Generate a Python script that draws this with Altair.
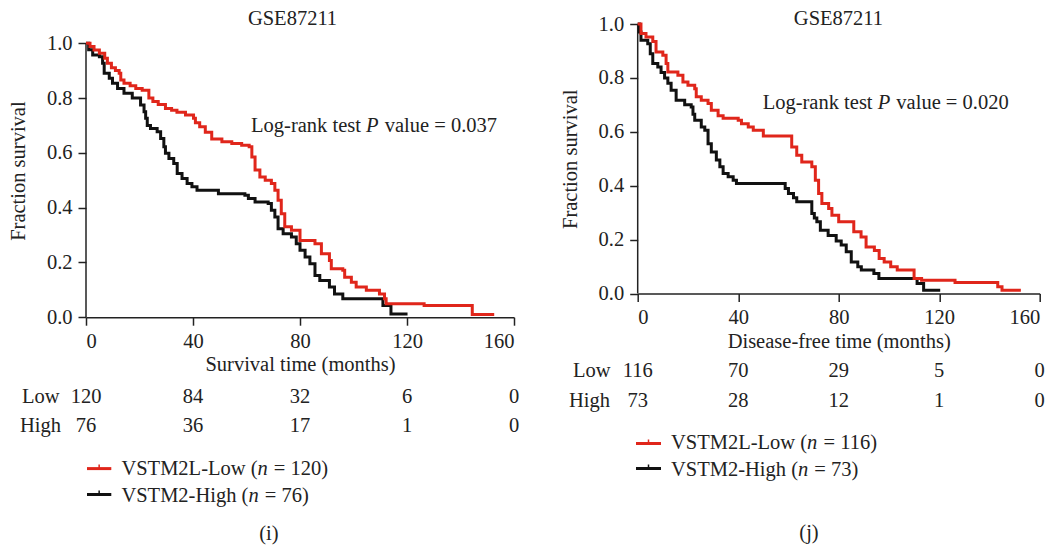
import altair as alt
import pandas as pd

FONT = "Liberation Serif"
FS = 20.5
RED = "#e0261b"
BLACK = "#111111"
INK = "#222222"
NB = "\u00a0"
SP = 0.25 * FS  # width of a space

# ---------------- data ----------------
x_ticks = [0, 40, 80, 120, 160]
y_ticks = [0.0, 0.2, 0.4, 0.6, 0.8, 1.0]
risk_times = [0, 40, 80, 120, 160]

# (i) overall survival
os_low_t = [0, 1.5, 3, 5, 7, 8, 9.5, 11, 12.4, 13, 14.2, 16.5, 18.6, 21, 23.5, 25, 27, 29.7,
            32, 34, 37.2, 40.2, 40.9, 42.5, 44.6, 47, 50.8, 54.5, 58.2, 61, 62, 63.2, 65,
            67, 69.3, 70.6, 71.8, 73, 74.3, 76.8, 80, 85.6, 88, 91, 91.7, 96, 96.7, 99.2,
            101, 104.8, 109.7, 111.6, 112.2, 126.4, 144.4, 152.6]
os_low_s = [1.0, 0.988, 0.975, 0.963, 0.945, 0.927, 0.91, 0.90, 0.89, 0.866, 0.854, 0.845,
            0.835, 0.828, 0.80, 0.787, 0.776, 0.762, 0.755, 0.748, 0.738, 0.726, 0.71, 0.695,
            0.675, 0.65, 0.64, 0.634, 0.628, 0.622, 0.585, 0.537, 0.512, 0.50, 0.488, 0.463,
            0.427, 0.378, 0.33, 0.317, 0.28, 0.268, 0.232, 0.207, 0.177, 0.171, 0.146, 0.128,
            0.11, 0.098, 0.085, 0.067, 0.049, 0.043, 0.01, 0.01]
os_high_t = [0, 1, 2.5, 5, 6.2, 6.8, 8.7, 9.9, 11.8, 14.2, 17.3, 20.4, 21.7, 22.3, 22.9, 24.1,
             26.6, 27.9, 29.1, 29.7, 31, 32.8, 34.1, 35.9, 37.8, 39.6, 41.5, 49.5, 59.4, 60.7,
             63.2, 68.1, 69.3, 70.6, 71.8, 73.7, 76.8, 78.6, 80, 81.9, 83.7, 85.6, 87.4, 91,
             92.9, 96, 111, 114, 120.2]
os_high_s = [1.0, 0.976, 0.957, 0.951, 0.927, 0.89, 0.872, 0.854, 0.835, 0.817, 0.80, 0.774,
             0.75, 0.726, 0.70, 0.689, 0.677, 0.652, 0.622, 0.598, 0.579, 0.561, 0.524, 0.506,
             0.488, 0.476, 0.463, 0.451, 0.445, 0.433, 0.42, 0.415, 0.39, 0.366, 0.323, 0.305,
             0.293, 0.268, 0.244, 0.22, 0.195, 0.152, 0.134, 0.11, 0.085, 0.067, 0.043, 0.012,
             0.012]
os_risk_low = [120, 84, 32, 6, 0]
os_risk_high = [76, 36, 17, 1, 0]

# (j) disease-free survival
dfs_low_t = [0, 1.3, 3.3, 6, 7.3, 10, 11.3, 12, 16, 18, 20, 22.7, 23.3, 25.3, 28, 29.3, 32, 34,
             40, 41.3, 44, 46, 50, 61.3, 63.3, 65.3, 69.3, 70.7, 72, 73.3, 76, 77.3, 80, 86,
             88.9, 90.9, 94.2, 96.1, 98.1, 100.7, 103.3, 110, 113, 126.3, 143.3, 145, 152.5]
dfs_low_s = [1.0, 0.965, 0.952, 0.935, 0.896, 0.884, 0.853, 0.822, 0.81, 0.785, 0.773, 0.76,
             0.73, 0.717, 0.705, 0.68, 0.66, 0.65, 0.643, 0.63, 0.618, 0.606, 0.584, 0.544,
             0.513, 0.488, 0.47, 0.42, 0.371, 0.334, 0.315, 0.29, 0.266, 0.229, 0.21, 0.173,
             0.16, 0.13, 0.117, 0.099, 0.087, 0.056, 0.049, 0.041, 0.025, 0.012, 0.012]
dfs_high_t = [0, 0.7, 1.3, 4, 5, 6, 8, 9.3, 10.7, 12, 13.3, 15.3, 18.7, 21.3, 22, 22.7, 25.3,
              26.7, 28, 29.3, 31.3, 32.7, 34, 36, 38, 39.3, 58.7, 60, 62, 63.3, 69.3, 70.3,
              71.3, 72.7, 75.8, 79, 81, 83, 85, 87.6, 89, 94, 96, 111.2, 113.8, 120.4]
dfs_high_s = [1.0, 0.97, 0.94, 0.927, 0.89, 0.853, 0.84, 0.82, 0.80, 0.78, 0.754, 0.717, 0.70,
              0.692, 0.665, 0.643, 0.618, 0.606, 0.556, 0.525, 0.495, 0.47, 0.445, 0.433, 0.42,
              0.408, 0.39, 0.371, 0.355, 0.34, 0.297, 0.28, 0.266, 0.235, 0.215, 0.195, 0.18,
              0.155, 0.117, 0.099, 0.087, 0.074, 0.056, 0.037, 0.012, 0.012]
dfs_risk_low = [116, 70, 29, 5, 0]
dfs_risk_high = [73, 28, 12, 1, 0]

WIDTHS = {"V": .722, "S": .556, "T": .611, "M": .889, "2": .5, "L": .611, "-": .333,
          "o": .5, "w": .722, " ": .25, "(": .333, "H": .722, "i": .278, "g": .5, "h": .5}


def panel(W, H, ymax, low_t, low_s, high_t, high_s, risk_low, risk_high, n_low, n_high,
          xtitle, pval, geo):
    xs = alt.Scale(domain=[0, 160], nice=False, zero=False)
    ys = alt.Scale(domain=[0, ymax], nice=False)
    xa = alt.Axis(values=x_ticks, format="d", title=xtitle, titlePadding=geo["xtp"])
    ya = alt.Axis(values=y_ticks, format=".1f", title="Fraction survival",
                  titlePadding=geo["ytp"], domain=False)
    X = alt.X("t:Q", scale=xs, axis=xa)
    Y = alt.Y("s:Q", scale=ys, axis=ya)

    def curve(ts, ss, color):
        return alt.Chart(pd.DataFrame({"t": ts, "s": ss})).mark_line(
            interpolate="step-after", color=color, strokeWidth=3, strokeJoin="miter"
        ).encode(x=X, y=Y)

    def txt(df, **kw):
        base = dict(font=FONT, fontSize=FS, color=INK)
        base.update(kw)
        return alt.Chart(df).mark_text(**base)

    # y axis line from 0 to 1.0
    yline = alt.Chart(pd.DataFrame({"t": [0], "s": [0.0], "s2": [1.0]})).mark_rule(
        color=INK, strokeWidth=1.5).encode(x=X, y=Y, y2="s2:Q")

    layers = [yline, curve(high_t, high_s, BLACK), curve(low_t, low_s, RED)]

    # title
    layers.append(txt(pd.DataFrame({"t": [geo["title_t"]], "lab": ["GSE87211"]}),
                      baseline="middle").encode(x=X, y=alt.value(geo["title_y"]), text="lab:N"))

    # log-rank annotation (italic P)
    ann = pd.DataFrame({"t": [geo["ann_t"]], "s": [geo["ann_s"]]})
    w1 = 5.61 * FS
    wp = 0.611 * FS
    layers.append(txt(ann, align="left", baseline="alphabetic", text="Log-rank test").encode(x=X, y=Y))
    layers.append(txt(ann, align="left", baseline="alphabetic", text="P", fontStyle="italic",
                      dx=w1).encode(x=X, y=Y))
    layers.append(txt(ann, align="left", baseline="alphabetic", text="value" + NB + "=" + NB + pval,
                      dx=w1 + wp + SP + 1).encode(x=X, y=Y))

    # number-at-risk table
    risk = pd.DataFrame({"t": risk_times, "low": risk_low, "high": risk_high})
    layers.append(txt(risk, align="center", baseline="alphabetic").encode(
        x=X, y=alt.value(geo["risk_low_y"]), text="low:Q"))
    layers.append(txt(risk, align="center", baseline="alphabetic").encode(
        x=X, y=alt.value(geo["risk_high_y"]), text="high:Q"))
    one = pd.DataFrame({"k": [0]})
    layers.append(txt(one, align="left", baseline="alphabetic", text="Low").encode(
        x=alt.value(geo["low_lab_x"]), y=alt.value(geo["risk_low_y"])))
    layers.append(txt(one, align="left", baseline="alphabetic", text="High").encode(
        x=alt.value(geo["high_lab_x"]), y=alt.value(geo["risk_high_y"])))

    # legend
    lx0, lx1 = geo["leg_x0"], geo["leg_x1"]
    lxm = (lx0 + lx1) / 2
    for (ly, ty, color, name, n) in [
        (geo["leg_red_y"], geo["leg_red_ty"], RED, "VSTM2L-Low (", n_low),
        (geo["leg_blk_y"], geo["leg_blk_ty"], BLACK, "VSTM2-High (", n_high),
    ]:
        layers.append(alt.Chart(one).mark_rule(color=color, strokeWidth=3).encode(
            x=alt.value(lx0), x2=alt.value(lx1), y=alt.value(ly)))
        layers.append(alt.Chart(one).mark_rule(color=color, strokeWidth=1.5).encode(
            x=alt.value(lxm), y=alt.value(ly - 4), y2=alt.value(ly)))
        tx = geo["leg_tx"]
        wname = sum(WIDTHS[c] for c in name) * FS
        layers.append(txt(one, align="left", baseline="alphabetic",
                          text=name.replace(" ", NB)).encode(x=alt.value(tx), y=alt.value(ty)))
        layers.append(txt(one, align="left", baseline="alphabetic", text="n",
                          fontStyle="italic").encode(x=alt.value(tx + wname), y=alt.value(ty)))
        layers.append(txt(one, align="left", baseline="alphabetic",
                          text="=" + NB + "%d)" % n).encode(
            x=alt.value(tx + wname + 0.5 * FS + SP + 1), y=alt.value(ty)))

    # panel label
    layers.append(txt(one, align="center", baseline="middle", text=geo["panel"]).encode(
        x=alt.value(geo["panel_x"]), y=alt.value(geo["panel_y"])))

    return alt.layer(*layers).properties(width=W, height=H)


# left panel: plot origin shared with right panel (page y 23.8); 1.0 sits 19.2 px lower
left = panel(428, 293.2, 293.2 / 274.0, os_low_t, os_low_s, os_high_t, os_high_s,
             os_risk_low, os_risk_high, 120, 76, "Survival time (months)", "0.037",
             dict(xtp=3, ytp=18, title_t=77.2, title_y=-5.5, ann_t=61.7, ann_s=0.676,
                  risk_low_y=378.8, risk_high_y=407.5, low_lab_x=-64, high_lab_x=-66,
                  leg_x0=1, leg_x1=25.3, leg_red_y=444.6, leg_red_ty=450.6,
                  leg_blk_y=470.5, leg_blk_ty=478.3, leg_tx=35.4,
                  panel="(i)", panel_x=182.9, panel_y=510.3))

right = panel(402, 269.5, 1.0, dfs_low_t, dfs_low_s, dfs_high_t, dfs_high_s, dfs_risk_low,
              dfs_risk_high, 116, 73, "Disease-free time (months)", "0.020",
              dict(xtp=3, ytp=18, title_t=79.9, title_y=-5.5, ann_t=49.75, ann_s=0.686,
                   risk_low_y=352.9, risk_high_y=382.9, low_lab_x=-64.7, high_lab_x=-68.7,
                   leg_x0=-1.7, leg_x1=23.3, leg_red_y=419.5, leg_red_ty=424.5,
                   leg_blk_y=444.5, leg_blk_ty=451.9, leg_tx=33.3,
                   panel="(j)", panel_x=171.3, panel_y=509.0))

chart = alt.concat(left, right, columns=2, spacing=39.7, align="none").properties(
    padding={"left": 0, "top": 0, "right": 0, "bottom": 0},
    background="white",
).configure_view(stroke=None).configure_axis(
    domainColor=INK, tickColor=INK, labelColor=INK, titleColor=INK,
    domainWidth=1.5, tickWidth=1.5, tickSize=8, grid=False,
    labelFont=FONT, titleFont=FONT, labelFontSize=FS, titleFontSize=FS,
    titleFontWeight="normal", labelPadding=6,
)

chart.save("out.html", embed_options={"renderer": "svg", "actions": False})
